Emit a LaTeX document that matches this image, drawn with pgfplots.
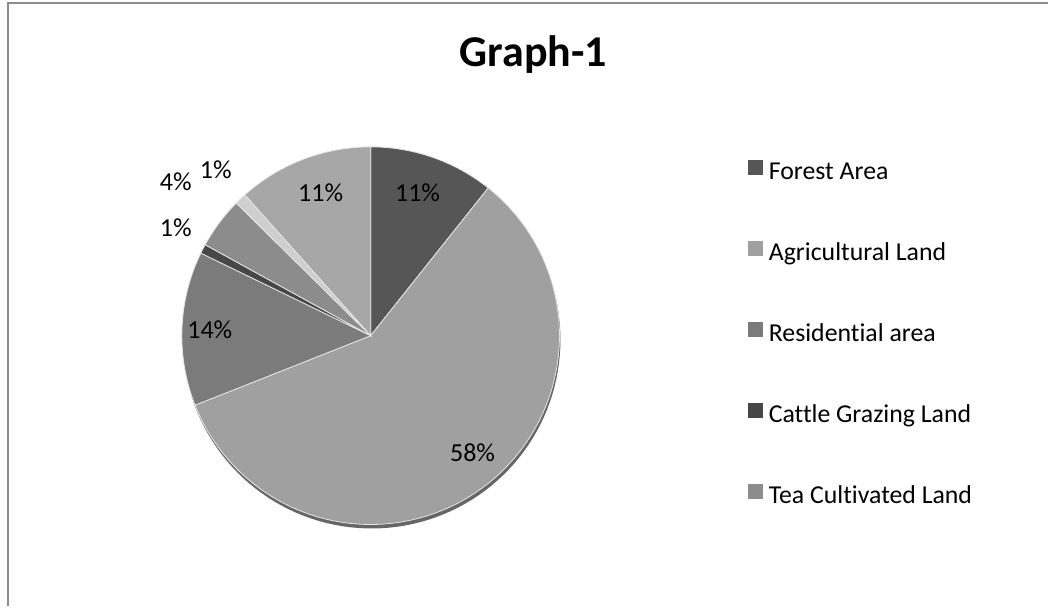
\documentclass[border=0pt]{standalone}
\usepackage{pgfplots}
\pgfplotsset{compat=1.18}
\usepackage{fontspec}
\setmainfont{Carlito}[Ligatures=NoCommon]
\definecolor{cForest}{HTML}{565656}
\definecolor{cAgri}{HTML}{A0A0A0}
\definecolor{cResid}{HTML}{7B7B7B}
\definecolor{cCattle}{HTML}{474747}
\definecolor{cTea}{HTML}{8C8C8C}
\definecolor{cSix}{HTML}{CFCFCF}
\definecolor{cSeven}{HTML}{A7A7A7}
\definecolor{cFrame}{HTML}{8C8C8C}
% slice shares (percent), clockwise from 12 o'clock:
% Forest 10.7, Agricultural 58.3, Residential 13.2, Cattle 0.8, Tea 4.4, (6th) 1.0, (7th) 11.6
\begin{document}
\begin{tikzpicture}
\begin{axis}[
  x=0.5pt, y=0.5pt,
  xmin=0, xmax=1049, ymin=0, ymax=607,
  hide axis, clip=false,
  legend cell align=left,
  legend style={at={(axis cs:742,451)}, anchor=north west, draw=none, fill=none,
    font=\fontsize{12.9}{15}\selectfont, row sep=27.7pt, column sep=3pt,
    nodes={text height=9pt, text depth=3pt, inner sep=0pt}},
  legend image code/.code={\fill[#1,draw=none] (0pt,-0.8pt) rectangle (7.6pt,6.8pt);},
]
\path (axis cs:0,0) rectangle (axis cs:1049,607);
% shadow
\addplot[fill=black!60, draw=none, domain=0:360, samples=150, forget plot]
  ({372+189*cos(x)}, {267+189*sin(x)}) -- cycle;
% slices
\addplot[fill=cForest, draw=white!80!gray, line width=0.4pt, domain={90-3.6*10.7}:{90}, samples=40]
  ({371+189*cos(x)}, {271+189*sin(x)}) -- (axis cs:371,271) -- cycle;
\addplot[fill=cAgri, draw=white!80!gray, line width=0.4pt, domain={90-3.6*69.0}:{90-3.6*10.7}, samples=150]
  ({371+189*cos(x)}, {271+189*sin(x)}) -- (axis cs:371,271) -- cycle;
\addplot[fill=cResid, draw=white!80!gray, line width=0.4pt, domain={90-3.6*82.2}:{90-3.6*69.0}, samples=40]
  ({371+189*cos(x)}, {271+189*sin(x)}) -- (axis cs:371,271) -- cycle;
\addplot[fill=cCattle, draw=white!80!gray, line width=0.4pt, domain={90-3.6*83.0}:{90-3.6*82.2}, samples=5]
  ({371+189*cos(x)}, {271+189*sin(x)}) -- (axis cs:371,271) -- cycle;
\addplot[fill=cTea, draw=white!80!gray, line width=0.4pt, domain={90-3.6*87.4}:{90-3.6*83.0}, samples=15]
  ({371+189*cos(x)}, {271+189*sin(x)}) -- (axis cs:371,271) -- cycle;
\addplot[fill=cSix, draw=white!80!gray, line width=0.4pt, domain={90-3.6*88.4}:{90-3.6*87.4}, samples=5, forget plot]
  ({371+189*cos(x)}, {271+189*sin(x)}) -- (axis cs:371,271) -- cycle;
\addplot[fill=cSeven, draw=white!80!gray, line width=0.4pt, domain={90-3.6*100}:{90-3.6*88.4}, samples=40, forget plot]
  ({371+189*cos(x)}, {271+189*sin(x)}) -- (axis cs:371,271) -- cycle;
\legend{Forest Area, Agricultural Land, Residential area, Cattle Grazing Land, Tea Cultivated Land}
% labels
\begin{scope}[every node/.style={font=\fontsize{13}{15}\selectfont, inner sep=0pt}]
\node at (axis cs:418,414) {11\%};
\node at (axis cs:473,154) {58\%};
\node at (axis cs:210,277) {14\%};
\node at (axis cs:176,379) {1\%};
\node at (axis cs:176,425) {4\%};
\node at (axis cs:216,437) {1\%};
\node at (axis cs:321,414) {11\%};
\end{scope}
\node[anchor=base, inner sep=0pt, font=\fontsize{22}{26}\selectfont\bfseries] at (axis cs:534,540) {Graph-1};
\draw[cFrame, line width=1pt] (axis cs:8,0) -- (axis cs:8,604) -- (axis cs:1049,604);
\end{axis}
\end{tikzpicture}
\end{document}
